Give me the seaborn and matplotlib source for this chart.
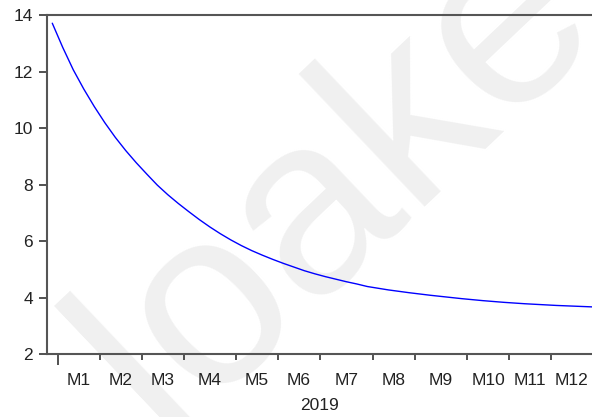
import numpy as np
import pandas as pd
import matplotlib
matplotlib.use("Agg")
import matplotlib.pyplot as plt
import seaborn as sns

values = [13.71, 12.85, 12.06, 11.38, 10.76, 10.19, 9.67, 9.20, 8.77, 8.37,
          7.98, 7.64, 7.33, 7.04, 6.76, 6.50, 6.26, 6.04, 5.84, 5.66,
          5.50, 5.35, 5.21, 5.08, 4.95, 4.84, 4.74, 4.65, 4.56, 4.48,
          4.39, 4.33, 4.27, 4.22, 4.17, 4.125, 4.08, 4.04, 4.00, 3.96,
          3.925, 3.89, 3.86, 3.83, 3.805, 3.78, 3.76, 3.74, 3.72, 3.705,
          3.69, 3.675, 3.66]
month_labels = ["M1", "M2", "M3", "M4", "M5", "M6",
                "M7", "M8", "M9", "M10", "M11", "M12"]
weeks_per_month = [4, 4, 4, 5, 4, 4, 5, 4, 5, 4, 4, 5]
year_label = "2019"
y_ticks = [2, 4, 6, 8, 10, 12, 14]

df = pd.DataFrame({"week": np.arange(len(values)), "value": values})

sns.set_style("white")
plt.rcParams["font.family"] = ["Liberation Sans", "DejaVu Sans"]

fig = plt.figure(figsize=(5.92, 4.17), dpi=100)
ax = fig.add_axes([0.0789, 0.151, 1 - 0.0789, 0.813])
ax.set_facecolor("none")

# faint watermark behind the plot
fig.text(0.57, 0.562, "loake", fontsize=182, color="#f0f0f0",
         rotation=43.5, rotation_mode="anchor", ha="center", va="center", zorder=-10)

sns.lineplot(data=df, x="week", y="value", ax=ax, color="#0000ff", linewidth=1.0)

x_left, x_right = -0.53, 51.4

# month boundaries (ticks) and month centres (labels)
starts = np.concatenate([[0.5], 0.5 + np.cumsum(weeks_per_month)[:-1]])
ends = np.append(starts[1:], x_right)
centres = (starts + ends) / 2

ax.set_xlim(x_left, x_right)
ax.set_ylim(2, 14)
ax.set_yticks(y_ticks)
ax.set_xticks(starts)
ax.set_xticklabels([])
ax.set_xticks(centres, minor=True)
ax.set_xticklabels(month_labels, minor=True)
ax.tick_params(axis="x", which="major", bottom=True, direction="out", length=4,
               width=1.2, color="#333333")
ax.tick_params(axis="x", which="minor", bottom=True, length=0, pad=14,
               labelsize=12.5, labelcolor="#222222")
ax.tick_params(axis="y", left=True, direction="out", length=6, width=1.2,
               color="#333333", labelsize=12.5, labelcolor="#222222", pad=4)
# year boundary tick is longer
ax.xaxis.get_major_ticks()[0].tick1line.set_markersize(8)
ax.set_xlabel(year_label, fontsize=12.5, color="#222222", labelpad=7)
ax.set_ylabel("")

for side in ["left", "top", "bottom"]:
    ax.spines[side].set_color("#555555")
    ax.spines[side].set_linewidth(1.5)
ax.spines["right"].set_visible(False)

fig.savefig("out.png", dpi=100)
